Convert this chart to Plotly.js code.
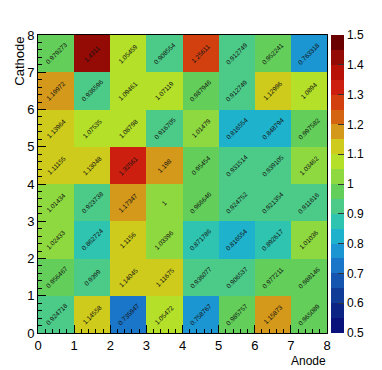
<!DOCTYPE html>
<html lang="en">
<head>
    <meta charset="UTF-8">
    <title>Anode vs Cathode</title>
    <script src="https://cdn.plot.ly/plotly-3.0.1.min.js"></script>
    <style>
        body { margin: 0; background: #fff; }
        #graph { width: 382px; height: 370px; }
    </style>
</head>
<body>
    <div id="graph"></div>
    <script>
        // bin centres
        var anode = [0.5, 1.5, 2.5, 3.5, 4.5, 5.5, 6.5, 7.5];
        var cathode = [0.5, 1.5, 2.5, 3.5, 4.5, 5.5, 6.5, 7.5];

        // one row per cathode bin, bottom to top
        var row0 = [0.924718, 1.14558, 0.735947, 1.05472, 0.758767, 0.985757, 1.15873, 0.965089];
        var row1 = [0.956467, 0.9399, 1.14045, 1.11675, 0.936077, 0.906537, 0.977211, 0.988146];
        var row2 = [1.02433, 0.862724, 1.1156, 1.03396, 0.871786, 0.816554, 0.892617, 1.01036];
        var row3 = [1.01434, 0.923738, 1.17347, 1, 0.966646, 0.924752, 0.921354, 0.911616];
        var row4 = [1.11155, 1.13048, 1.32561, 1.198, 0.95454, 0.931514, 0.939105, 1.03462];
        var row5 = [1.13964, 1.07535, 1.08798, 0.916705, 1.01479, 0.816554, 0.848794, 0.997582];
        var row6 = [1.19972, 0.936596, 1.09461, 1.07119, 0.987946, 0.912749, 1.12996, 1.0894];
        var row7 = [0.979273, 1.4311, 1.05459, 0.908554, 1.25611, 0.912749, 0.952241, 0.763318];
        var z = [row0, row1, row2, row3, row4, row5, row6, row7];

        // 20 palette bands from 0.5 to 1.5
        var bandColors = [
            '#08127a', '#0c2585', '#103c98', '#1555b0', '#1a76c8',
            '#1b96d2', '#1fb2cc', '#2fc4b0', '#4ccb88', '#63cf5a',
            '#8fd940', '#b4e02a', '#cfcb1c', '#d4981a', '#d46412',
            '#d2400f', '#cc1f10', '#b81208', '#940a05', '#6b0000'
        ];
        var colorscale = [];
        bandColors.forEach(function(c, k) {
            colorscale.push([k / 20, c]);
            colorscale.push([(k + 1) / 20, c]);
        });

        var cbTicks = [0.5, 0.6, 0.7, 0.8, 0.9, 1, 1.1, 1.2, 1.3, 1.4, 1.5];
        var cbText = ['0.5', '0.6', '0.7', '0.8', '0.9', '1', '1.1', '1.2', '1.3', '1.4', '1.5'];

        var trace = {
            type: 'heatmap',
            x: anode,
            y: cathode,
            z: z,
            zmin: 0.5,
            zmax: 1.5,
            colorscale: colorscale,
            hoverinfo: 'none',
            colorbar: {
                x: 1.013, xanchor: 'left', xpad: 0,
                y: 0.5, yanchor: 'middle', len: 1, ypad: 0,
                thickness: 13,
                outlinewidth: 0,
                tickvals: cbTicks, ticktext: cbText,
                ticks: 'inside', ticklen: 6, tickcolor: '#333',
                tickfont: { family: 'Liberation Sans, Arial', size: 12, color: '#000' }
            }
        };

        var annotations = [];
        z.forEach(function(row, i) {
            row.forEach(function(v, j) {
                annotations.push({
                    x: anode[j], y: cathode[i], xref: 'x', yref: 'y',
                    text: String(v), showarrow: false, textangle: -45,
                    font: { family: 'Liberation Sans, Arial', size: 6.5, color: '#111' }
                });
            });
        });
        annotations.push({
            xref: 'paper', yref: 'paper', x: -0.065, y: 1, xanchor: 'center', yanchor: 'top',
            text: 'Cathode', textangle: -90, showarrow: false,
            font: { family: 'Liberation Sans, Arial', size: 13, color: '#000' }
        });
        annotations.push({
            xref: 'paper', yref: 'paper', x: 1, y: -0.068, xanchor: 'right', yanchor: 'top',
            text: 'Anode', showarrow: false, borderpad: 0,
            font: { family: 'Liberation Sans, Arial', size: 12, color: '#000' }
        });

        var axisCommon = {
            range: [0, 8], dtick: 1, tick0: 0,
            ticks: 'inside', ticklen: 8, tickcolor: '#000', tickwidth: 1,
            minor: { dtick: 0.2, ticks: 'inside', ticklen: 4, tickcolor: '#000' },
            showline: true, mirror: true, linecolor: '#000', linewidth: 1,
            showgrid: false, zeroline: false,
            tickfont: { family: 'Liberation Sans, Arial', size: 13, color: '#000' }
        };

        var layout = {
            width: 382, height: 370,
            margin: { l: 38, r: 39, t: 35, b: 37 },
            paper_bgcolor: '#fff', plot_bgcolor: '#fff',
            xaxis: Object.assign({}, axisCommon, { ticklabelstandoff: 0 }),
            yaxis: Object.assign({}, axisCommon),
            annotations: annotations,
            showlegend: false
        };

        Plotly.newPlot('graph', [trace], layout, { displayModeBar: false, staticPlot: true });
    </script>
</body>
</html>
